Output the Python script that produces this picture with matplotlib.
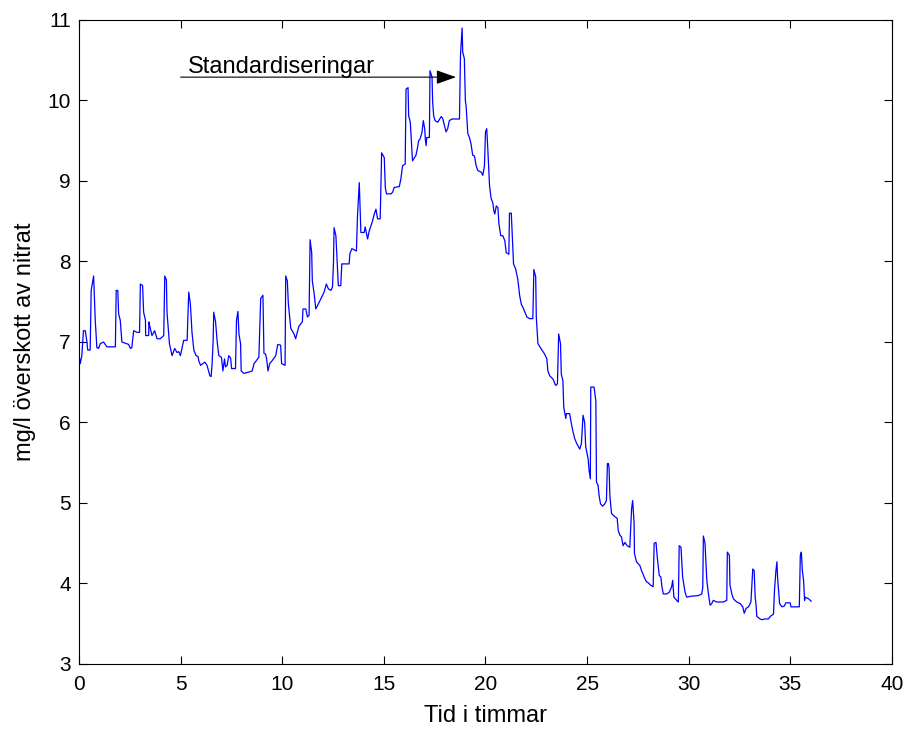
import matplotlib
matplotlib.use("Agg")
import matplotlib.pyplot as plt

plt.rcParams['font.family'] = ['Liberation Sans', 'DejaVu Sans']

# Time in hours, nitrate excess in mg/l
hours = [
    0.00, 0.06, 0.14, 0.22, 0.31, 0.38, 0.43, 0.55, 0.60, 0.72, 0.80, 0.88, 0.96, 1.05, 1.21, 1.37,
    1.79, 1.83, 1.91, 1.95, 2.03, 2.08, 2.11, 2.44, 2.53, 2.60, 2.69, 2.85, 2.98, 3.02, 3.13, 3.18,
    3.27, 3.28, 3.43, 3.44, 3.48, 3.59, 3.72, 3.84, 4.00, 4.17, 4.22, 4.30, 4.33, 4.45, 4.58, 4.71,
    4.82, 4.91, 4.99, 5.15, 5.32, 5.40, 5.48, 5.56, 5.65, 5.76, 5.86, 5.89, 5.98, 6.19, 6.30, 6.44,
    6.50, 6.55, 6.60, 6.63, 6.72, 6.80, 6.88, 7.01, 7.08, 7.16, 7.21, 7.29, 7.37, 7.46, 7.51, 7.70,
    7.75, 7.82, 7.87, 7.95, 7.98, 8.11, 8.28, 8.52, 8.61, 8.85, 8.94, 9.05, 9.10, 9.18, 9.23, 9.30,
    9.38, 9.51, 9.68, 9.78, 9.92, 9.97, 10.14, 10.17, 10.25, 10.30, 10.42, 10.58, 10.66, 10.74, 10.83,
    10.99, 11.02, 11.16, 11.24, 11.32, 11.37, 11.45, 11.48, 11.57, 11.65, 11.73, 11.81, 11.98, 12.06,
    12.17, 12.27, 12.39, 12.47, 12.52, 12.55, 12.64, 12.72, 12.76, 12.88, 12.93, 13.13, 13.29, 13.33,
    13.43, 13.65, 13.70, 13.79, 13.82, 13.87, 14.03, 14.08, 14.15, 14.20, 14.28, 14.36, 14.44, 14.53,
    14.61, 14.69, 14.82, 14.89, 15.02, 15.07, 15.13, 15.35, 15.43, 15.51, 15.76, 15.84, 15.92, 16.05,
    16.09, 16.19, 16.22, 16.30, 16.37, 16.41, 16.58, 16.66, 16.71, 16.78, 16.88, 16.94, 17.01, 17.04,
    17.08, 17.11, 17.24, 17.27, 17.37, 17.40, 17.45, 17.52, 17.65, 17.82, 17.89, 17.98, 18.06, 18.14,
    18.22, 18.36, 18.72, 18.77, 18.85, 18.88, 18.96, 19.01, 19.05, 19.13, 19.21, 19.29, 19.37, 19.46,
    19.54, 19.62, 19.79, 19.87, 19.95, 20.00, 20.06, 20.11, 20.20, 20.28, 20.36, 20.41, 20.46, 20.53,
    20.61, 20.66, 20.75, 20.85, 20.95, 21.02, 21.15, 21.18, 21.27, 21.32, 21.38, 21.48, 21.59, 21.68,
    21.76, 21.84, 21.97, 22.04, 22.17, 22.33, 22.38, 22.47, 22.50, 22.58, 22.75, 22.91, 23.02, 23.07,
    23.16, 23.32, 23.45, 23.54, 23.60, 23.69, 23.73, 23.81, 23.85, 23.95, 23.98, 24.14, 24.23, 24.31,
    24.39, 24.47, 24.55, 24.64, 24.72, 24.80, 24.88, 24.93, 25.05, 25.10, 25.16, 25.18, 25.34, 25.43,
    25.46, 25.54, 25.59, 25.66, 25.76, 25.87, 25.95, 26.00, 26.05, 26.08, 26.12, 26.20, 26.36, 26.48,
    26.53, 26.61, 26.69, 26.77, 26.86, 26.97, 27.10, 27.19, 27.24, 27.31, 27.33, 27.43, 27.60, 27.68,
    27.84, 27.93, 28.00, 28.12, 28.25, 28.30, 28.39, 28.45, 28.55, 28.63, 28.68, 28.75, 28.91, 29.04,
    29.16, 29.21, 29.27, 29.41, 29.49, 29.53, 29.62, 29.70, 29.82, 29.90, 30.06, 30.47, 30.64, 30.69,
    30.72, 30.80, 30.89, 30.96, 31.05, 31.13, 31.21, 31.38, 31.70, 31.87, 31.90, 32.00, 32.03, 32.12,
    32.20, 32.36, 32.53, 32.66, 32.73, 32.82, 32.94, 33.06, 33.15, 33.22, 33.27, 33.32, 33.35, 33.51,
    33.60, 33.76, 33.92, 34.01, 34.17, 34.22, 34.29, 34.34, 34.37, 34.47, 34.59, 34.70, 34.78, 34.99,
    35.03, 35.44, 35.49, 35.54, 35.59, 35.65, 35.70, 35.73, 35.90, 36.02,
]

nitrate = [
    6.85, 6.73, 6.83, 7.14, 7.14, 7.02, 6.90, 6.90, 7.64, 7.82, 7.27, 6.93, 6.92, 6.98, 7.00, 6.94,
    6.94, 7.64, 7.64, 7.35, 7.27, 7.10, 7.00, 6.97, 6.92, 6.93, 7.14, 7.12, 7.12, 7.72, 7.70, 7.37,
    7.27, 7.08, 7.08, 7.25, 7.20, 7.08, 7.14, 7.04, 7.04, 7.08, 7.82, 7.77, 7.37, 6.98, 6.83, 6.92,
    6.87, 6.88, 6.83, 7.02, 7.02, 7.62, 7.47, 7.12, 6.90, 6.83, 6.82, 6.77, 6.71, 6.75, 6.71, 6.58,
    6.57, 6.73, 7.02, 7.37, 7.25, 7.00, 6.83, 6.81, 6.64, 6.79, 6.69, 6.71, 6.83, 6.80, 6.67, 6.67,
    7.27, 7.38, 7.10, 6.98, 6.64, 6.61, 6.62, 6.64, 6.73, 6.81, 7.54, 7.58, 6.86, 6.85, 6.79, 6.64,
    6.73, 6.77, 6.83, 6.97, 6.96, 6.73, 6.71, 7.82, 7.76, 7.48, 7.17, 7.10, 7.04, 7.12, 7.20,
    7.25, 7.41, 7.41, 7.31, 7.33, 8.27, 8.11, 7.76, 7.60, 7.41, 7.45, 7.49, 7.58, 7.62,
    7.72, 7.66, 7.64, 7.68, 7.97, 8.42, 8.32, 7.91, 7.70, 7.70, 7.97, 7.97, 7.97, 8.10,
    8.16, 8.13, 8.55, 8.98, 8.76, 8.36, 8.36, 8.43, 8.34, 8.28, 8.38, 8.44, 8.50, 8.59,
    8.65, 8.53, 8.53, 9.35, 9.29, 8.92, 8.84, 8.84, 8.86, 8.92, 8.93, 9.03, 9.19, 9.21,
    10.14, 10.16, 9.81, 9.73, 9.42, 9.25, 9.32, 9.42, 9.50, 9.52, 9.61, 9.75, 9.65, 9.52,
    9.44, 9.54, 9.54, 10.37, 10.29, 9.98, 9.81, 9.75, 9.73, 9.80, 9.78, 9.69, 9.61, 9.65,
    9.75, 9.77, 9.77, 10.56, 10.90, 10.60, 10.52, 10.00, 9.92, 9.59, 9.54, 9.46, 9.32, 9.31,
    9.19, 9.13, 9.11, 9.07, 9.19, 9.61, 9.65, 9.42, 8.94, 8.78, 8.73, 8.63, 8.59, 8.69,
    8.67, 8.47, 8.32, 8.32, 8.26, 8.11, 8.09, 8.60, 8.60, 8.30, 7.97, 7.91, 7.78, 7.58,
    7.47, 7.43, 7.35, 7.31, 7.29, 7.29, 7.90, 7.81, 7.31, 6.98, 6.91, 6.85, 6.79, 6.64,
    6.58, 6.54, 6.46, 6.48, 7.10, 6.98, 6.60, 6.52, 6.19, 6.05, 6.11, 6.11, 5.98, 5.88,
    5.80, 5.75, 5.71, 5.67, 5.74, 6.09, 6.00, 5.70, 5.55, 5.40, 5.30, 6.44, 6.44, 6.27,
    5.26, 5.22, 5.09, 4.99, 4.96, 4.99, 5.03, 5.49, 5.49, 5.43, 5.09, 4.87, 4.83, 4.81,
    4.66, 4.60, 4.58, 4.47, 4.51, 4.47, 4.45, 4.93, 5.03, 4.76, 4.37, 4.27, 4.22, 4.16,
    4.06, 4.02, 4.01, 3.98, 3.96, 4.50, 4.51, 4.33, 4.10, 4.08, 3.96, 3.87, 3.87, 3.89,
    3.96, 4.04, 3.83, 3.79, 3.77, 4.47, 4.45, 4.08, 3.89, 3.83, 3.84, 3.85, 3.87, 3.95,
    4.59, 4.50, 4.04, 3.89, 3.73, 3.75, 3.79, 3.77, 3.77, 3.79, 4.39, 4.35, 3.98, 3.87,
    3.81, 3.77, 3.75, 3.71, 3.63, 3.69, 3.71, 3.77, 4.18, 4.16, 3.83, 3.71, 3.59, 3.56,
    3.55, 3.56, 3.56, 3.59, 3.62, 3.92, 4.16, 4.27, 4.08, 3.75, 3.71, 3.72, 3.76, 3.76,
    3.71, 3.71, 4.35, 4.39, 4.16, 4.04, 3.79, 3.83, 3.81, 3.78,
]

x_ticks = [0, 5, 10, 15, 20, 25, 30, 35, 40]
y_ticks = [3, 4, 5, 6, 7, 8, 9, 10, 11]
annotation_text = "Standardiseringar"
annotation_start = (5.0, 10.29)
annotation_end = (18.55, 10.29)
annotation_text_pos = (5.35, 10.34)

fig = plt.figure(figsize=(9.10, 7.32), dpi=100)
ax = fig.add_axes([0.0868, 0.0929, 0.8934, 0.8798])

ax.plot(hours, nitrate, color=(0, 0, 1), linewidth=0.9)

ax.set_xlim(0, 40)
ax.set_ylim(3, 11)
ax.set_xticks(x_ticks)
ax.set_yticks(y_ticks)
ax.tick_params(direction='in', length=5.5, width=0.8, top=True, right=True,
               labelsize=15, colors='black')
ax.tick_params(axis='x', pad=8)
ax.tick_params(axis='y', pad=6)
for s in ax.spines.values():
    s.set_linewidth(0.8)

ax.set_xlabel("Tid i timmar", fontsize=17, labelpad=8)
ax.set_ylabel("mg/l överskott av nitrat", fontsize=17, labelpad=8)

ax.annotate("", xy=annotation_end, xytext=annotation_start,
            arrowprops=dict(arrowstyle='-|>,head_length=1.22,head_width=0.43',
                            color='black', lw=0.8, shrinkA=0, shrinkB=0,
                            mutation_scale=10))
ax.text(annotation_text_pos[0], annotation_text_pos[1], annotation_text,
        fontsize=17, ha='left', va='baseline')

fig.savefig("out.png", dpi=100, facecolor='white')
